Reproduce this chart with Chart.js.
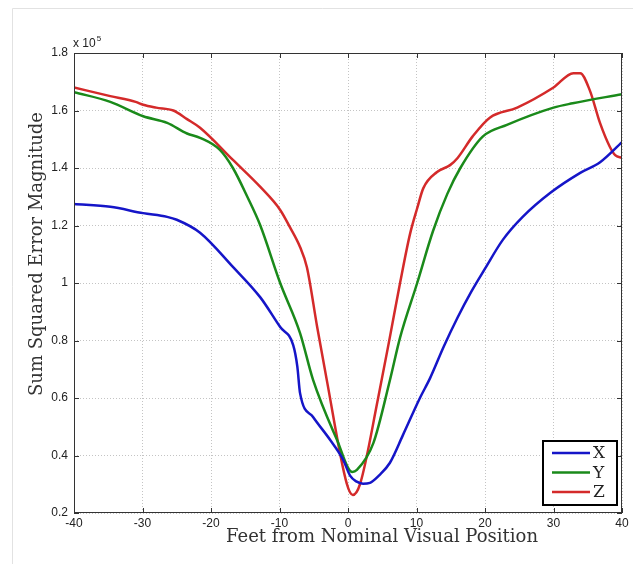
<!DOCTYPE html>
<html>
<head>
<meta charset="utf-8">
<script src="https://cdn.jsdelivr.net/npm/chart.js@4.4.0/dist/chart.umd.min.js"></script>
<style>
  html, body { margin: 0; padding: 0; background: #fff; }
  canvas { display: block; }
</style>
</head>
<body>
<canvas id="errChart" width="633" height="564"></canvas>
<script>
// X series (blue)
const xPosX = [-40, -34.7, -29.9, -26.4, -25, -21.6, -16.8, -12.8, -9.9, -8, -7.4, -7, -5.1, -2.6, -0.7, 0.3, 1.2, 2.2, 3.2, 4.5, 6.1, 8, 10.5, 12, 14, 16, 18, 20, 22.6, 25.5, 29.5, 33.9, 36.8, 40];
const valX  = [1.275, 1.265, 1.243, 1.23, 1.22, 1.175, 1.056, 0.95, 0.847, 0.784, 0.71, 0.617, 0.534, 0.454, 0.385, 0.33, 0.31, 0.302, 0.305, 0.33, 0.374, 0.47, 0.6, 0.67, 0.78, 0.88, 0.97, 1.05, 1.15, 1.23, 1.313, 1.383, 1.42, 1.49];

// Y series (green)
const xPosY = [-40, -34.7, -29.9, -26.4, -23.5, -21.6, -18.7, -16.8, -14.7, -12.8, -9.9, -7, -5.1, -1.6, 0.6, 1.3, 3.7, 6.1, 7.6, 10.1, 12.4, 14.5, 16.4, 19.7, 23.2, 30, 32.8, 40];
const valY  = [1.664, 1.63, 1.58, 1.557, 1.52, 1.505, 1.463, 1.4, 1.3, 1.2, 1.0, 0.826, 0.663, 0.454, 0.343, 0.35, 0.443, 0.66, 0.81, 1.0, 1.18, 1.31, 1.4, 1.51, 1.55, 1.61, 1.625, 1.657];

// Z series (red)
const xPosZ = [-40, -34.7, -31, -29.9, -28, -25.5, -23.5, -21.6, -16.8, -12.8, -9.9, -8.5, -7, -6, -4.5, -3.1, -0.2, 0.7, 1.75, 4.4, 6.1, 7.6, 9.05, 10.1, 11, 13, 14.9, 16, 18.2, 20.7, 24.7, 30, 32.9, 33.9, 35.3, 36.8, 38.2, 39, 40];
const valZ  = [1.68, 1.65, 1.63, 1.62, 1.61, 1.6, 1.57, 1.54, 1.428, 1.334, 1.254, 1.195, 1.125, 1.055, 0.847, 0.663, 0.304, 0.263, 0.3, 0.6, 0.81, 1.0, 1.17, 1.26, 1.33, 1.386, 1.41, 1.435, 1.51, 1.575, 1.61, 1.68, 1.73, 1.73, 1.67, 1.556, 1.475, 1.445, 1.435];

const seriesNames = ["X", "Y", "Z"];
const seriesColors = ["#1515c8", "#1a8a1a", "#d42a2a"];
const xTicks = [-40, -30, -20, -10, 0, 10, 20, 30, 40];
const yTicks = [0.2, 0.4, 0.6, 0.8, 1.0, 1.2, 1.4, 1.6, 1.8];

function toPoints(xs, ys) {
  return xs.map((x, i) => ({ x: x, y: ys[i] }));
}

const serif = "'DejaVu Serif', 'Liberation Serif', serif";
const sans = "'Liberation Sans', Arial, sans-serif";

// frame, inward ticks, axis titles, exponent and legend box
const decorations = {
  id: "decorations",
  beforeDraw(chart) {
    const ctx = chart.ctx;
    ctx.save();
    ctx.strokeStyle = "#e2e2e2";
    ctx.lineWidth = 1;
    ctx.beginPath();
    ctx.moveTo(12.5, 564);
    ctx.lineTo(12.5, 8.5);
    ctx.lineTo(633, 8.5);
    ctx.stroke();
    ctx.restore();
  },
  afterDatasetsDraw(chart) {
    const ctx = chart.ctx;
    const a = chart.chartArea;
    const xs = chart.scales.x, ys = chart.scales.y;
    ctx.save();
    // plot box
    ctx.strokeStyle = "#333";
    ctx.lineWidth = 1;
    ctx.strokeRect(a.left + 0.5, a.top + 0.5, a.right - a.left - 1, a.bottom - a.top - 1);
    // inward ticks
    ctx.beginPath();
    xTicks.forEach(t => {
      const px = Math.round(xs.getPixelForValue(t)) + 0.5;
      ctx.moveTo(px, a.bottom); ctx.lineTo(px, a.bottom - 5);
      ctx.moveTo(px, a.top); ctx.lineTo(px, a.top + 5);
    });
    yTicks.forEach(t => {
      const py = Math.round(ys.getPixelForValue(t)) + 0.5;
      ctx.moveTo(a.left, py); ctx.lineTo(a.left + 5, py);
      ctx.moveTo(a.right, py); ctx.lineTo(a.right - 5, py);
    });
    ctx.stroke();

    // exponent label
    ctx.fillStyle = "#222";
    ctx.textBaseline = "alphabetic";
    ctx.textAlign = "left";
    ctx.font = "12px " + sans;
    ctx.fillText("x 10", a.left - 1, a.top - 6);
    const w = ctx.measureText("x 10").width;
    ctx.font = "8px " + sans;
    ctx.fillText("5", a.left - 1 + w + 1, a.top - 12);

    // axis titles
    ctx.fillStyle = "#333";
    ctx.font = "18px " + serif;
    ctx.textAlign = "center";
    ctx.textBaseline = "middle";
    ctx.fillText("Feet from Nominal Visual Position", 382, 537);
    ctx.save();
    ctx.translate(37, 254);
    ctx.rotate(-Math.PI / 2);
    ctx.fillText("Sum Squared Error Magnitude", 0, 0);
    ctx.restore();

    // legend
    const bw = 74, bh = 64;
    const bx = a.right - 5 - bw, by = a.bottom - 8 - bh;
    ctx.fillStyle = "#fff";
    ctx.fillRect(bx, by, bw, bh);
    ctx.strokeStyle = "#000";
    ctx.lineWidth = 2;
    ctx.strokeRect(bx, by, bw, bh);
    chart.data.datasets.forEach((ds, i) => {
      const ly = by + 12 + i * 19.5;
      ctx.strokeStyle = ds.borderColor;
      ctx.lineWidth = 2.5;
      ctx.beginPath();
      ctx.moveTo(bx + 9, ly);
      ctx.lineTo(bx + 47, ly);
      ctx.stroke();
      ctx.fillStyle = "#222";
      ctx.textAlign = "left";
      ctx.font = "17px " + serif;
      ctx.fillText(ds.label, bx + 50, ly + 1);
    });
    ctx.restore();
  }
};

const ctx = document.getElementById("errChart").getContext("2d");
new Chart(ctx, {
  type: "line",
  data: {
    datasets: [
      { label: seriesNames[0], data: toPoints(xPosX, valX), borderColor: seriesColors[0] },
      { label: seriesNames[1], data: toPoints(xPosY, valY), borderColor: seriesColors[1] },
      { label: seriesNames[2], data: toPoints(xPosZ, valZ), borderColor: seriesColors[2] }
    ]
  },
  options: {
    responsive: false,
    animation: false,
    layout: { padding: { top: 53, right: 11, bottom: 0, left: 0 } },
    elements: {
      point: { radius: 0 },
      line: { borderWidth: 2.5, cubicInterpolationMode: "monotone", fill: false }
    },
    plugins: {
      legend: { display: false },
      tooltip: { enabled: false }
    },
    scales: {
      x: {
        type: "linear",
        min: -40,
        max: 40,
        afterFit: s => { s.height = 51; },
        afterBuildTicks: s => { s.ticks = xTicks.map(v => ({ value: v })); },
        grid: { color: "#c4c4c4", lineWidth: 1, drawTicks: false },
        border: { display: false, dash: [1, 2] },
        ticks: {
          padding: 3,
          color: "#222",
          font: { family: sans, size: 12 },
          callback: v => String(v)
        }
      },
      y: {
        min: 0.2,
        max: 1.8,
        afterFit: s => { s.width = 74; },
        afterBuildTicks: s => { s.ticks = yTicks.map(v => ({ value: v })); },
        grid: { color: "#c4c4c4", lineWidth: 1, drawTicks: false },
        border: { display: false, dash: [1, 2] },
        ticks: {
          padding: 6,
          color: "#222",
          font: { family: sans, size: 12 },
          callback: v => String(Number(v.toFixed(1)))
        }
      }
    }
  },
  plugins: [decorations]
});
</script>
</body>
</html>
